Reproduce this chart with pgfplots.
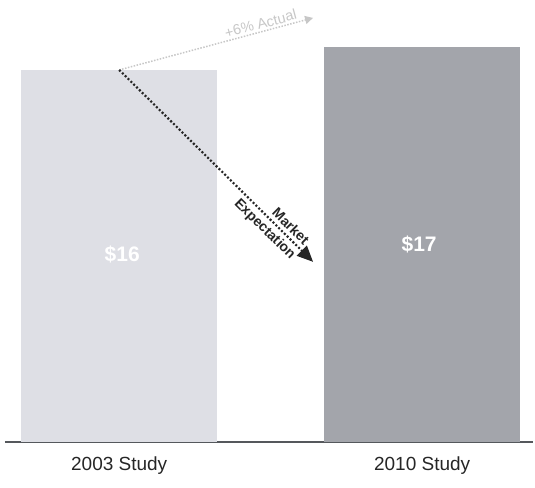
\documentclass[border=0pt]{standalone}
\usepackage{pgfplots}
\pgfplotsset{compat=1.18}
\usepackage{fontspec}
\setmainfont{Liberation Sans}
\usetikzlibrary{arrows.meta}

\definecolor{barlight}{RGB}{222,223,229}
\definecolor{bardark}{RGB}{163,165,171}
\definecolor{baseline}{RGB}{85,88,92}

\begin{document}
\begin{tikzpicture}
\useasboundingbox (0pt,-45.3pt) rectangle (535pt,441.7pt);
\begin{axis}[
  at={(5pt,0pt)}, anchor=south west,
  scale only axis,
  width=528pt, height=441.7pt,
  ybar, bar width=196pt, bar shift=0pt,
  xmin=-0.377, xmax=1.366,
  ymin=0, ymax=19.01,
  axis y line=none,
  axis x line*=bottom,
  x axis line style={line width=2pt, draw=baseline},
  xtick={0,1},
  xticklabels={2003 Study, 2010 Study},
  major tick length=0pt,
  xticklabel style={font=\fontsize{19}{21}\selectfont, text=black!85, yshift=-11pt},
  ytick=\empty,
  clip=false,
]
\addplot[fill=barlight, draw=none] coordinates {(0,16)};
\addplot[fill=bardark, draw=none] coordinates {(1,17)};

\node[font=\bfseries\fontsize{21}{21}\selectfont, text=white] at (axis cs:0.01,8.04) {\$16};
\node[font=\bfseries\fontsize{21}{21}\selectfont, text=white] at (axis cs:0.99,8.47) {\$17};

% +6% actual (light gray)
\draw[black!22, line width=1.5pt, dash pattern=on 1.5pt off 1.5pt,
      -{Triangle[length=8pt,width=8pt]}]
  (axis cs:0,16) -- node[pos=0.74, sloped, above, inner sep=2pt,
     font=\fontsize{14.5}{14.5}\selectfont, text=black!22] {+6\% Actual}
  (axis cs:0.64,18.24);

% market expectation (black)
\draw[black!85, line width=2.2pt, dash pattern=on 2pt off 2pt,
      -{Triangle[length=16pt,width=14pt]}]
  (axis cs:0,16) --
  node[pos=0.85, sloped, above, inner sep=3.5pt,
     font=\bfseries\fontsize{14}{14}\selectfont, text=black!85] {Market}
  node[pos=0.79, sloped, below, inner sep=3.5pt,
     font=\bfseries\fontsize{14}{14}\selectfont, text=black!85] {Expectation}
  (axis cs:0.64,7.74);
\end{axis}
\end{tikzpicture}
\end{document}
